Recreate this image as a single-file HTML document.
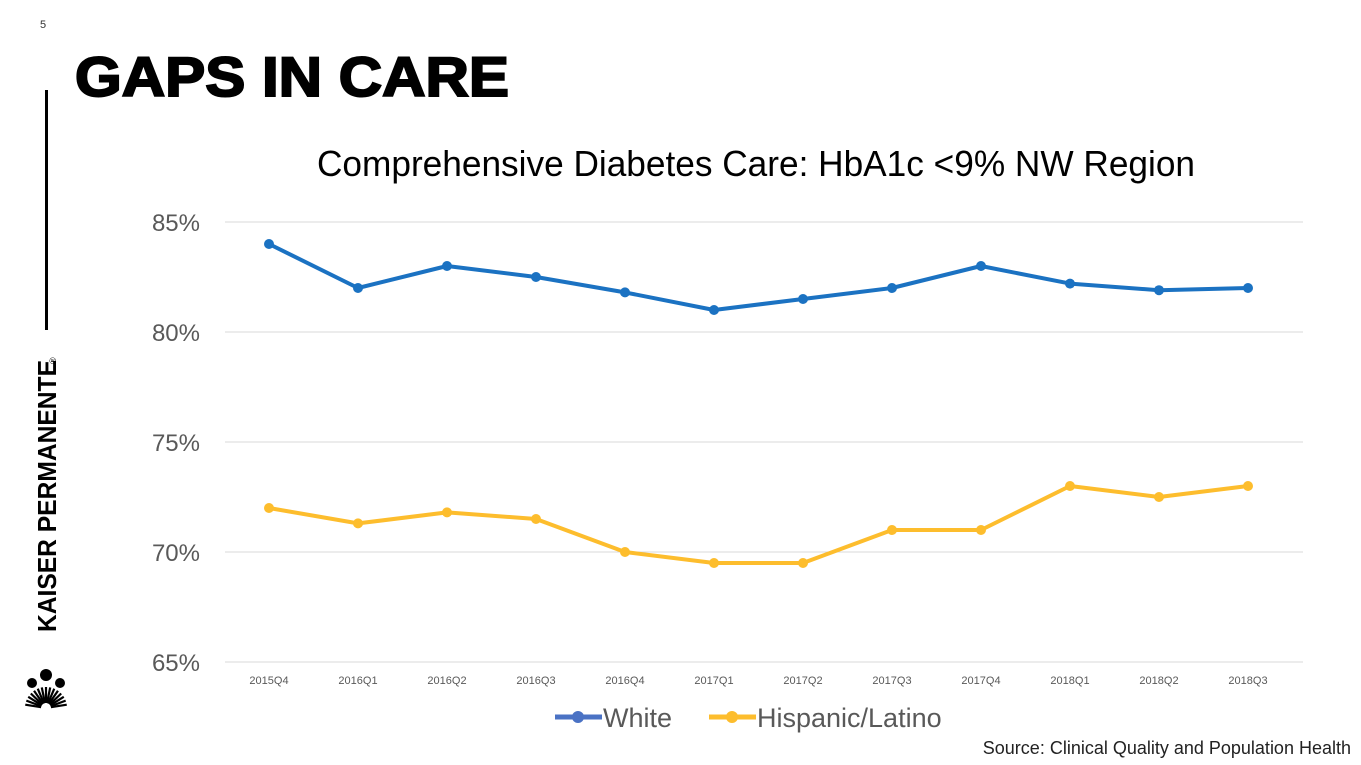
<!DOCTYPE html>
<html><head><meta charset="utf-8"><style>
html,body{margin:0;padding:0;background:#fff;}
svg{display:block;font-family:"Liberation Sans",sans-serif;}
</style></head><body>
<svg id="c" width="1361" height="765" viewBox="0 0 1361 765">
<text x="40" y="28" font-size="11" fill="#333">5</text>
<text x="75" y="96" font-size="56" font-weight="bold" fill="#000" stroke="#000" stroke-width="2" textLength="434" lengthAdjust="spacingAndGlyphs">GAPS IN CARE</text>
<rect x="45" y="90" width="3" height="240" fill="#000"/>
<text transform="translate(56,632) rotate(-90)" font-size="26" font-weight="bold" fill="#000" textLength="272" lengthAdjust="spacingAndGlyphs">KAISER PERMANENTE</text>
<text transform="translate(56,364) rotate(-90)" font-size="9" fill="#000">®</text>
<g id="logo" fill="#000" stroke="#000">
<circle cx="46" cy="675" r="6" stroke="none"/><circle cx="32" cy="683" r="5" stroke="none"/><circle cx="60" cy="683" r="5" stroke="none"/>
</g>
<text x="756" y="176" font-size="36" text-anchor="middle" fill="#000" textLength="878" lengthAdjust="spacingAndGlyphs">Comprehensive Diabetes Care: HbA1c &lt;9% NW Region</text>
<g id="grid"></g><g id="xl"></g><g id="yl"></g><g id="series"></g>
<g>
<g>
<line x1="555" y1="717" x2="602" y2="717" stroke="#4a72c4" stroke-width="5"/><circle cx="578" cy="717" r="6" fill="#4a72c4"/>
<text x="603" y="727" font-size="27" fill="#595959">White</text></g>
<g>
<line x1="709" y1="717" x2="756" y2="717" stroke="#fdbd2d" stroke-width="5"/><circle cx="732" cy="717" r="6" fill="#fdbd2d"/>
<text x="757" y="727" font-size="27" fill="#595959">Hispanic/Latino</text></g>
</g>
<text x="1351" y="754" font-size="18" text-anchor="end" fill="#222">Source: Clinical Quality and Population Health</text>
</svg>
<script>
const categories=["2015Q4","2016Q1","2016Q2","2016Q3","2016Q4","2017Q1","2017Q2","2017Q3","2017Q4","2018Q1","2018Q2","2018Q3"];
const whiteValues=[84,82,83,82.5,81.8,81,81.5,82,83,82.2,81.9,82];
const hispanicValues=[72,71.3,71.8,71.5,70,69.5,69.5,71,71,73,72.5,73];
const yTicks=[65,70,75,80,85];
const NS="http://www.w3.org/2000/svg";
function xS(i){return 269+i*89;}
function yS(v){return 662-(v-65)*22;}
function mk(t,a,p){const e=document.createElementNS(NS,t);for(const k in a)e.setAttribute(k,a[k]);p.appendChild(e);return e;}
const grid=document.getElementById('grid'),yl=document.getElementById('yl'),xl=document.getElementById('xl'),ser=document.getElementById('series');
yTicks.forEach(v=>{
const l=mk('line',{x1:225,x2:1303,y1:yS(v),y2:yS(v),stroke:'#d9d9d9','stroke-width':1},grid);


const t=mk('text',{x:200,y:yS(v)+9,'font-size':24,'text-anchor':'end',fill:'#595959'},yl);
t.textContent=v+'%';


});
categories.forEach((c,i)=>{
const t=mk('text',{x:xS(i),y:684,'font-size':11,'text-anchor':'middle',fill:'#595959'},xl);
t.textContent=c;


});
function draw(vals,color,name){
const g=mk('g',{},ser);


const pl=mk('polyline',{points:vals.map((v,i)=>xS(i)+','+yS(v)).join(' '),fill:'none',stroke:color,'stroke-width':4,'stroke-linejoin':'round'},g);


vals.forEach((v,i)=>{
const c=mk('circle',{cx:xS(i),cy:yS(v),r:5,fill:color},g);


});
}
draw(whiteValues,'#1b72c2','series-white');
draw(hispanicValues,'#fdbd2d','series-hispanic-latino');
const logo=document.getElementById('logo');
for(let k=0;k<15;k++){
const a=Math.PI*(0.05+0.9*k/14);
mk('line',{x1:46-Math.cos(a)*5,y1:708-Math.sin(a)*5,x2:46-Math.cos(a)*21,y2:708-Math.sin(a)*21,'stroke-width':2.2},logo);
}
</script>
</body></html>
